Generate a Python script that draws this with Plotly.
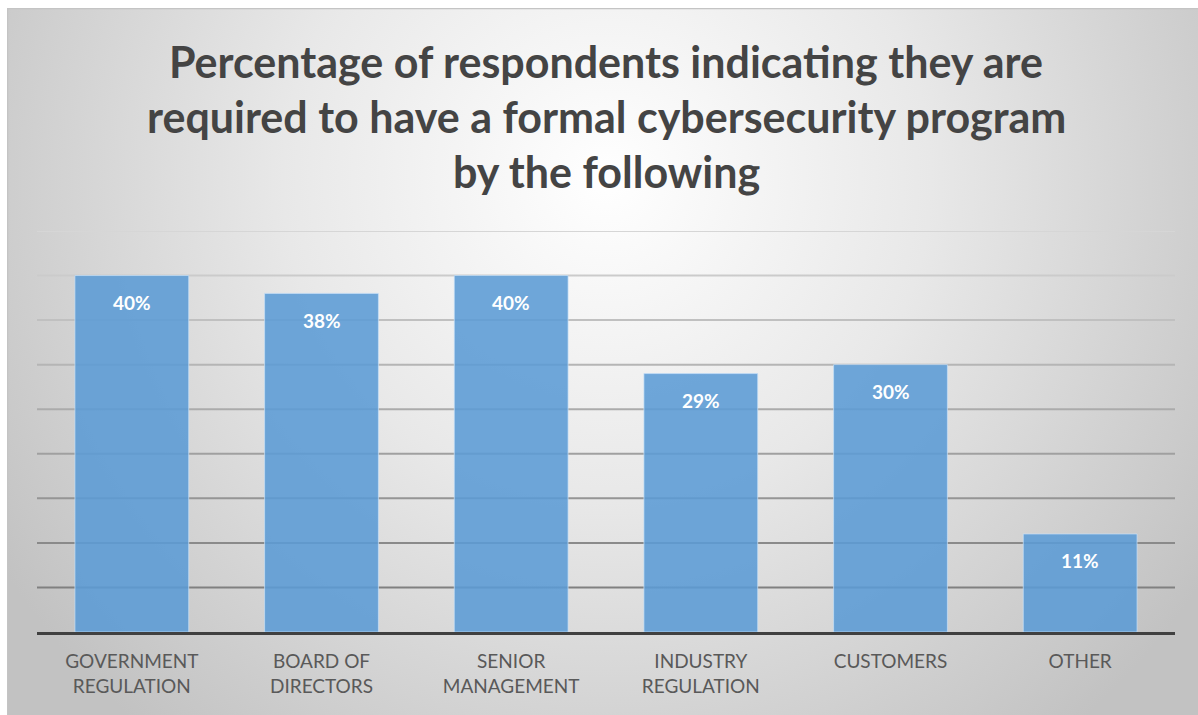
import base64
import plotly.graph_objects as go

# Survey results: share of respondents required to run a formal cybersecurity program
categories = ["GOVERNMENT<br>REGULATION", "BOARD OF<br>DIRECTORS", "SENIOR<br>MANAGEMENT",
              "INDUSTRY<br>REGULATION", "CUSTOMERS", "OTHER"]
percent = [40, 38, 40, 29, 30, 11]
title_lines = ["Percentage of respondents indicating they are",
               "required to have a formal cybersecurity program",
               "by the following"]
grid_values = [5, 10, 15, 20, 25, 30, 35, 40, 45]

W, H = 1198, 715
L, R, T, B = 37, 23, 231, 83
plot_w, plot_h = W - L - R, H - T - B

# Soft radial backdrop behind the whole chart
bg_w, bg_h = W - 7, H - 8
svg = f"""<svg xmlns='http://www.w3.org/2000/svg' width='{bg_w}' height='{bg_h}' viewBox='0 0 {bg_w} {bg_h}' preserveAspectRatio='none'>
<defs><radialGradient id='g' gradientUnits='userSpaceOnUse' cx='600' cy='170' r='720'>
<stop offset='0' stop-color='#ffffff'/><stop offset='0.45' stop-color='#e8e8e8'/><stop offset='1' stop-color='#c2c2c2'/>
</radialGradient></defs>
<rect x='0' y='0' width='{bg_w}' height='{bg_h}' fill='url(#g)'/>
<line x1='0' y1='0.5' x2='{bg_w}' y2='0.5' stroke='#c4c4c4' stroke-width='1.5'/>
<line x1='0.5' y1='0' x2='0.5' y2='{bg_h}' stroke='#c4c4c4' stroke-width='1.5'/>
</svg>"""
bg_src = "data:image/svg+xml;base64," + base64.b64encode(svg.encode()).decode()


def px_to_paper_x(px):
    return (px - L) / plot_w


def px_to_paper_y(py):
    return (H - B - py) / plot_h


fig = go.Figure()
fig.add_trace(go.Bar(
    x=categories, y=percent,
    marker=dict(color="rgba(91,155,213,0.88)", line=dict(color="rgba(200,225,250,0.7)", width=1)),
    hoverinfo="skip",
))

# Gridlines fade from darker near the baseline to light at the top
shapes = []
n = len(grid_values)
for i, v in enumerate(grid_values):
    t = i / (n - 1)
    c = int(128 + t * (214 - 128))
    shapes.append(dict(type="line", xref="paper", x0=0, x1=1, yref="y", y0=v, y1=v,
                       line=dict(color=f"rgb({c},{c},{c})", width=2), layer="below"))

annotations = []
# Value labels sit just inside the top of each bar
for cat, val in zip(categories, percent):
    annotations.append(dict(x=cat, y=val, xref="x", yref="y", text=f"{val}%", showarrow=False,
                            yanchor="middle", yshift=-27,
                            font=dict(family="Lato, Open Sans, sans-serif", size=19, color="white", weight="bold")))

# Three-line heading
for line, cy in zip(title_lines, [62, 117, 171]):
    annotations.append(dict(x=0.5, y=px_to_paper_y(cy), xref="paper", yref="paper", text=line,
                            showarrow=False, xanchor="center", yanchor="middle",
                            font=dict(family="Lato, Open Sans, sans-serif", size=43, color="#444444", weight="bold")))

fig.update_layout(
    width=W, height=H,
    margin=dict(l=L, r=R, t=T, b=B, pad=0),
    paper_bgcolor="white", plot_bgcolor="rgba(0,0,0,0)",
    showlegend=False, bargap=0.4,
    shapes=shapes, annotations=annotations,
    images=[dict(source=bg_src, xref="paper", yref="paper",
                 x=px_to_paper_x(7), y=px_to_paper_y(8),
                 sizex=bg_w / plot_w, sizey=bg_h / plot_h,
                 xanchor="left", yanchor="top", sizing="stretch", layer="below")],
    xaxis=dict(showline=True, linecolor="#404040", linewidth=3, ticks="", ticklabelstandoff=10,
               tickfont=dict(family="Lato, Open Sans, sans-serif", size=19, color="#595959"),
               showgrid=False, zeroline=False),
    yaxis=dict(range=[0, 45], showgrid=False, zeroline=False, showticklabels=False, showline=False),
)

fig.write_html("out.html")
